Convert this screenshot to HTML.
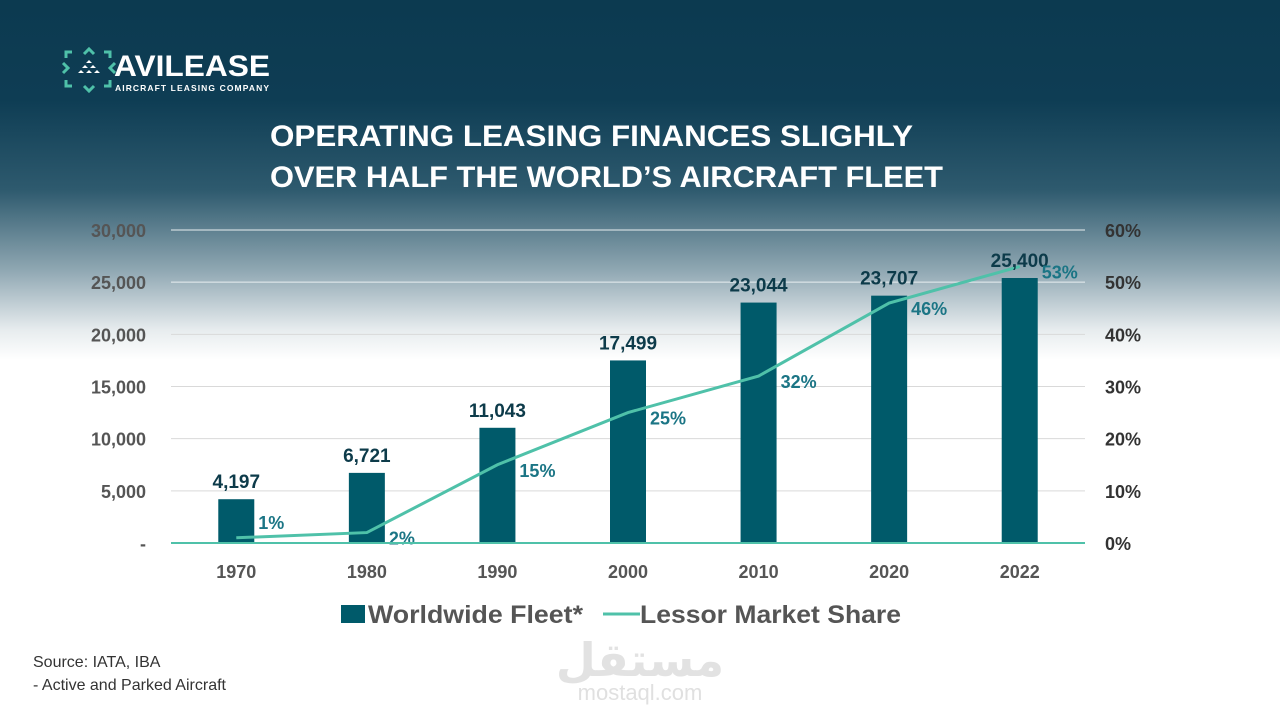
<!DOCTYPE html>
<html><head><meta charset="utf-8"><style>
body{margin:0;width:1280px;height:720px;overflow:hidden;font-family:"Liberation Sans",sans-serif;}
#bg{position:absolute;left:0;top:0;width:1280px;height:720px;background:linear-gradient(180deg,#0c3a50 0px,#0e3d54 100px,#2e5a6e 190px,#8fa7b2 270px,#e7ecee 330px,#ffffff 360px,#ffffff 720px);}
svg{position:absolute;left:0;top:0;}
</style></head><body>
<div id="bg"></div>
<svg width="1280" height="720" id="chart">
<g>
 <g stroke="#4fc1a9" stroke-width="3" fill="none">
  <path d="M66 58 v-6 h6 M84 54 l5 -5 l5 5 M104 52 h6 v6 M66 80 v6 h6 M84 86 l5 5 l5 -5 M104 86 h6 v-6 M63 63 l5 5 l-5 5 M115 63 l-5 5 l5 5"/>
 </g>
 <g fill="#ffffff"><path d="M89 60 l3 3 h-6z M85 65 l3 3 h-6z M93 65 l3 3 h-6z M81 70 l3 3 h-6z M89 70 l3 3 h-6z M97 70 l3 3 h-6z"/></g>
 <text x="114" y="76" fill="#fff" font-size="30" font-weight="700" textLength="156" lengthAdjust="spacingAndGlyphs">AVILEASE</text>
 <text x="115" y="91" fill="#fff" font-size="8.5" font-weight="700" textLength="154">AIRCRAFT LEASING COMPANY</text>
</g>
<text x="270" y="146" fill="#fff" font-size="30" font-weight="700" textLength="643" lengthAdjust="spacingAndGlyphs">OPERATING LEASING  FINANCES SLIGHLY</text>
<text x="270" y="187" fill="#fff" font-size="30" font-weight="700" textLength="673" lengthAdjust="spacingAndGlyphs">OVER HALF THE WORLD’S AIRCRAFT FLEET</text>
<g id="grid"></g><g id="bars"></g><g id="line"></g><g id="labels"></g><g id="axes"></g>
<g>
 <rect x="341" y="605" width="24" height="18" fill="#005a6a"/>
 <text x="368" y="623" font-size="25" font-weight="700" fill="#555" textLength="215" lengthAdjust="spacingAndGlyphs">Worldwide Fleet*</text>
 <line x1="603" y1="614" x2="640" y2="614" stroke="#4fc1a9" stroke-width="3"/>
 <text x="640" y="623" font-size="25" font-weight="700" fill="#555" textLength="261" lengthAdjust="spacingAndGlyphs">Lessor Market Share</text>
</g>
<text x="33" y="667" font-size="16" fill="#333">Source: IATA, IBA</text>
<text x="33" y="690" font-size="16" fill="#333">- Active and Parked Aircraft</text>
<g>
 <text x="640" y="676" text-anchor="middle" font-size="46" font-weight="700" fill="#e2e2e2" font-family="DejaVu Sans,sans-serif">مستقل</text>
 <text x="640" y="700" text-anchor="middle" font-size="22" fill="#e0e0e0">mostaql.com</text>
</g>
</svg>
<script>
const categories=["1970","1980","1990","2000","2010","2020","2022"];
const fleet=[4197,6721,11043,17499,23044,23707,25400];
const share=[1,2,15,25,32,46,53];
const leftTicks=[0,5000,10000,15000,20000,25000,30000];
const rightTicks=[0,10,20,30,40,50,60];
const NS="http://www.w3.org/2000/svg";
const x0=171,x1=1085,yb=543,yt=230;
const step=(x1-x0)/categories.length;
const xc=i=>x0+step*(i+0.5);
const yL=v=>yb-(v/30000)*(yb-yt);
const yR=v=>yb-(v/60)*(yb-yt);
function mk(tag,attrs,parent,txt){const e=document.createElementNS(NS,tag);for(const k in attrs)e.setAttribute(k,attrs[k]);if(txt!==undefined)e.textContent=txt;document.getElementById(parent).appendChild(e);return e;}
leftTicks.forEach((t,i)=>{
 if(i>0){const g=mk('line',{x1:x0,x2:x1,y1:yL(t),y2:yL(t),stroke:i>=5?'#e8eef0':'#d9d9d9','stroke-width':1},'grid');
 
 }
 const l=mk('text',{x:146,y:yL(t)+7,'text-anchor':'end','font-size':18,'font-weight':700,fill:'#555'},'axes',t===0?'-':t.toLocaleString('en-US'));
 
 
});
rightTicks.forEach(t=>{
 const l=mk('text',{x:1105,y:yR(t)+7,'font-size':18,'font-weight':700,fill:'#333'},'axes',t+'%');
 
 
});
const ax=mk('line',{x1:x0,x2:x1,y1:yb,y2:yb,stroke:'#4fc1a9','stroke-width':2},'axes');


categories.forEach((c,i)=>{
 const l=mk('text',{x:xc(i),y:578,'text-anchor':'middle','font-size':18,'font-weight':700,fill:'#555'},'axes',c);
 
 
 const b=mk('rect',{x:xc(i)-18,y:yL(fleet[i]),width:36,height:yb-yL(fleet[i]),fill:'#005a6a'},'bars');
 
 
 const v=mk('text',{x:xc(i),y:yL(fleet[i])-11,'text-anchor':'middle','font-size':19,'font-weight':700,fill:'#0d3b4a'},'labels',fleet[i].toLocaleString('en-US'));
 
 
 const s=mk('text',{x:xc(i)+22,y:(i===0?529:yR(share[i])+12),'font-size':18,'font-weight':700,fill:'#1b7585'},'labels',share[i]+'%');
 
 
});
const pts=share.map((s,i)=>xc(i)+','+yR(s)).join(' ');
const pl=mk('polyline',{points:pts,fill:'none',stroke:'#4fc1a9','stroke-width':3},'line');


</script>
</body></html>
